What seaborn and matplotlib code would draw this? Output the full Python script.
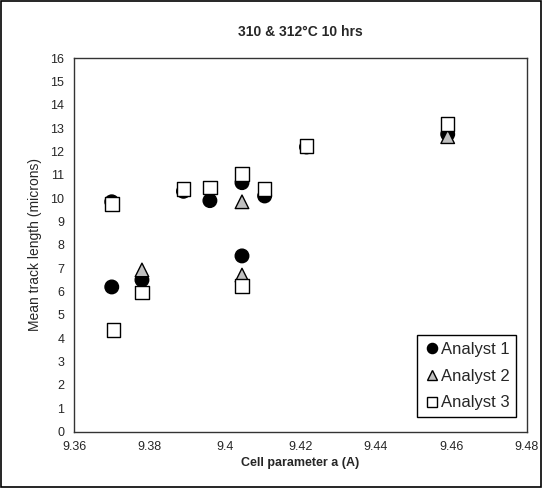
import matplotlib
matplotlib.use("Agg")
import matplotlib.pyplot as plt
import seaborn as sns
import pandas as pd
from matplotlib.patches import Rectangle

# Data
a1_x = [9.370, 9.370, 9.378, 9.389, 9.396, 9.4045, 9.4045, 9.4105, 9.4216, 9.459]
a1_y = [6.2, 9.85, 6.5, 10.3, 9.9, 10.67, 7.53, 10.1, 12.2, 12.75]
a2_x = [9.378, 9.4045, 9.4045, 9.459]
a2_y = [6.93, 9.85, 6.71, 12.64]
a3_x = [9.370, 9.3705, 9.378, 9.389, 9.396, 9.4045, 9.4045, 9.4105, 9.4216, 9.459]
a3_y = [9.76, 4.35, 5.97, 10.4, 10.47, 11.03, 6.25, 10.4, 12.24, 13.18]
series = ["Analyst 1", "Analyst 2", "Analyst 3"]
x_ticks = [9.36, 9.38, 9.40, 9.42, 9.44, 9.46, 9.48]
x_tick_labels = ["9.36", "9.38", "9.4", "9.42", "9.44", "9.46", "9.48"]
y_ticks = list(range(0, 17))

df = pd.concat([
    pd.DataFrame({"x": a1_x, "y": a1_y, "Analyst": series[0]}),
    pd.DataFrame({"x": a2_x, "y": a2_y, "Analyst": series[1]}),
    pd.DataFrame({"x": a3_x, "y": a3_y, "Analyst": series[2]}),
], ignore_index=True)

sns.set_style("white")
plt.rcParams["font.family"] = ["Liberation Sans", "DejaVu Sans"]

fig = plt.figure(figsize=(5.43, 4.88), dpi=100)
ax = fig.add_axes([0.1363, 0.1156, 0.8342, 0.7649])

palette = {"Analyst 1": "black", "Analyst 2": "#c0c0c0", "Analyst 3": "white"}
markers = {"Analyst 1": "o", "Analyst 2": "^", "Analyst 3": "s"}
sns.scatterplot(data=df, x="x", y="y", hue="Analyst", style="Analyst",
                palette=palette, markers=markers, s=95, edgecolor="black",
                linewidth=1.0, ax=ax, legend=True, zorder=3)

ax.set_xlim(9.36, 9.48)
ax.set_ylim(0, 16)
ax.set_xticks(x_ticks)
ax.set_xticklabels(x_tick_labels, fontsize=9)
ax.set_yticks(y_ticks)
ax.set_yticklabels([str(t) for t in y_ticks], fontsize=9)
ax.tick_params(axis="both", direction="out", length=4, width=1, color="#333333", pad=3)
for sp in ax.spines.values():
    sp.set_color("#333333")
    sp.set_linewidth(1.0)

ax.set_xlabel("Cell parameter a (A)", fontsize=9, fontweight="bold", labelpad=3)
ax.set_ylabel("Mean track length (microns)", fontsize=10, labelpad=6)
ax.set_title("310 & 312°C 10 hrs", fontsize=10, fontweight="bold", pad=16)

leg = ax.legend(loc="lower right", bbox_to_anchor=(0.976, 0.039), fontsize=12,
                frameon=True, fancybox=False, markerscale=0.75,
                handletextpad=0.05, borderpad=0.4, labelspacing=0.7,
                handlelength=1.0, borderaxespad=0)
leg.get_frame().set_edgecolor("black")
leg.get_frame().set_linewidth(1.0)
leg.get_frame().set_alpha(1)

fig.patches.append(Rectangle((0.002, 0.003), 0.995, 0.994, transform=fig.transFigure,
                             fill=False, edgecolor="black", linewidth=1.2))

fig.savefig("out.png", dpi=100)
